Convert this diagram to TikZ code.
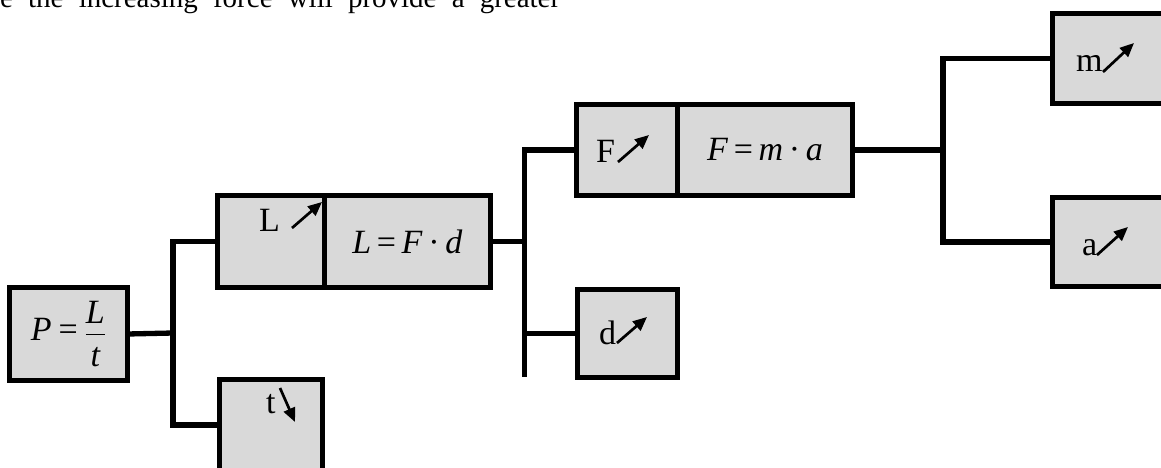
\documentclass[tikz,border=0pt]{standalone}
\usepackage{fontspec}
\usepackage{amsmath}
\setmainfont{Liberation Serif}
\usetikzlibrary{arrows.meta,calc}
\definecolor{boxgray}{HTML}{D9D9D9}
\tikzset{
  box/.style={draw=black, fill=boxgray, line width=5.3pt, inner sep=0pt, outer sep=0pt,
    font=\fontsize{34}{40}\selectfont},
  conn/.style={draw=black, line width=5.3pt, line join=miter},
  lbl/.style={anchor=base west, inner sep=0pt, font=\fontsize{34}{40}\selectfont},
  varrow/.style={draw=black, line width=2.7pt, -{Triangle[length=14pt,width=12pt]}},
  toptext/.style={anchor=base west, inner sep=0pt, font=\fontsize{29}{34}\selectfont}
}
\begin{document}
\begin{tikzpicture}[x=1pt,y=-1pt]
\clip (0,0) rectangle (1161,468);
\node[toptext] (top) at (0,7.5) {\makebox[560pt][s]{e the increasing force will provide a greater}};

% boxes
\node[box, minimum width=117.7pt, minimum height=92.7pt] (P) at (68.5,334)
  {$\displaystyle \textit{P}\mathrel{\textrm{=}}\genfrac{}{}{1.7pt}{}{\textit{L}\rule[-5pt]{0pt}{0pt}}{\rule{0pt}{26pt}\textit{t}}$};
\node[box, minimum width=106.9pt, minimum height=91.8pt] (Lvar) at (271,241.5) {};
\node[box, minimum width=165.9pt, minimum height=91.8pt] (Leq) at (407.4,241.5)
  {\textit{L}\,=\,\textit{F}\,·\,\textit{d}};
\node[box, minimum width=102.8pt, minimum height=95.4pt] (t) at (271,427.3) {};
\node[box, minimum width=100.9pt, minimum height=90.8pt] (Fvar) at (627,150) {};
\node[box, minimum width=174.9pt, minimum height=90.8pt] (Feq) at (765,150)
  {\textit{F}\,=\,\textit{m}\,·\,\textit{a}};
\node[box, minimum width=99.8pt, minimum height=87.8pt] (d) at (627.5,333.5) {};
\node[box, minimum width=117.4pt, minimum height=89.8pt] (m) at (1111.3,58.5) {};
\node[box, minimum width=117.4pt, minimum height=88.8pt] (a) at (1111.3,242) {};

% connectors
\coordinate (j1) at (173,333);
\coordinate (tin) at (219.6,425);
\draw[conn] (P.east) -- (j1);
\draw[conn] (Lvar.west) -| (j1) |- (tin);

\coordinate (j2) at (524.5,241.5);
\coordinate (j2end) at (524.5,377);
\draw[conn] (Leq.east) -- (j2);
\draw[conn] (Fvar.west) -| (j2end);
\draw[conn] (d.west) -- (d.west -| j2);

\coordinate (j3) at (943,150);
\draw[conn] (Feq.east) -- (j3);
\draw[conn] (m.west) -| (j3) |- (a.west);

% variable labels and arrows
\node[lbl] (Llbl) at (259,231) {L};
\draw[varrow] (292,228) -- (322,202);
\node[lbl] (tlbl) at (266,413) {t};
\draw[varrow] (280,388) -- (295,422);
\node[lbl] (Flbl) at (596,162) {F};
\draw[varrow] (618,162) -- (649,135);
\node[lbl] (dlbl) at (599,344) {d};
\draw[varrow] (617,343) -- (647,317);
\node[lbl] (mlbl) at (1076,72) {m};
\draw[varrow] (1103,72) -- (1134,43);
\node[lbl] (albl) at (1082,255) {a};
\draw[varrow] (1097,255) -- (1128,227);
\end{tikzpicture}
\end{document}
